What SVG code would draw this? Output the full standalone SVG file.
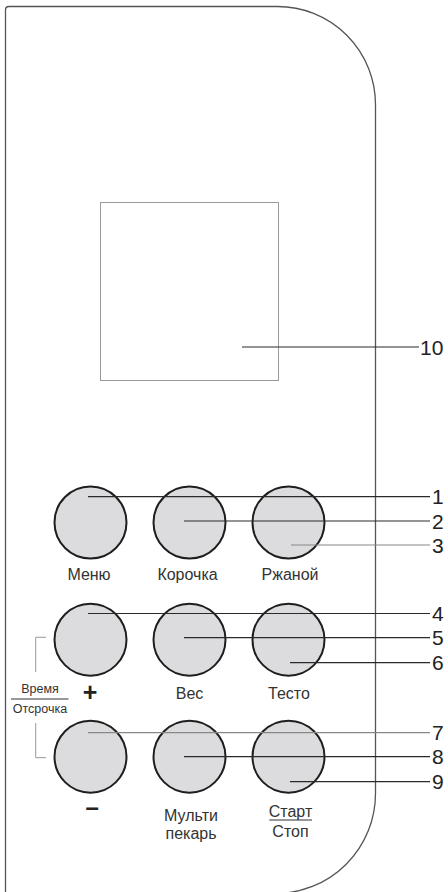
<svg xmlns="http://www.w3.org/2000/svg" width="448" height="892" viewBox="0 0 448 892">
<style>
.btn{fill:#dcdcde;stroke:#1e1e1e;stroke-width:2}
.lbl{font-family:"Liberation Sans",Arial,sans-serif;font-size:16px;fill:#333;text-anchor:middle}
.sm{font-family:"Liberation Sans",Arial,sans-serif;font-size:12.5px;fill:#333;text-anchor:middle}
.num{font-family:"Liberation Sans",Arial,sans-serif;font-size:21px;fill:#222}
.ln{stroke:#2a2a2a;stroke-width:1.2;fill:none}
.lg{stroke:#888;stroke-width:1.2;fill:none}
.br{stroke:#999;stroke-width:1;fill:none}
</style>
<rect width="448" height="892" fill="#fff"/>
<g id="panel">
<path d="M5.5,900 V10 Q5.5,6.5 9,6.5 H277.5 A98,98 0 0 1 375.5,104.5 V793.5 A100,100 0 0 1 275.5,893.5 H5.5" fill="none" stroke="#555" stroke-width="1.3"/>
</g>
<g id="screen">
<rect x="100.5" y="202.5" width="178" height="178" fill="none" stroke="#9a9a9a" stroke-width="1"/>
</g>
<g id="btn-menu"><circle class="btn" cx="90.5" cy="522.5" r="36"/><text class="lbl" x="89" y="580">Меню</text></g>
<g id="btn-korochka"><circle class="btn" cx="189.5" cy="522.5" r="36"/><text class="lbl" x="187.5" y="580">Корочка</text></g>
<g id="btn-rzhanoy"><circle class="btn" cx="288.5" cy="522.5" r="36"/><text class="lbl" x="290" y="580">Ржаной</text></g>
<g id="btn-plus"><circle class="btn" cx="90.5" cy="639.7" r="36"/><text x="90" y="701" font-family="Liberation Sans,Arial,sans-serif" font-weight="bold" font-size="25" fill="#222" text-anchor="middle">+</text></g>
<g id="btn-ves"><circle class="btn" cx="189.5" cy="639.7" r="36"/><text class="lbl" x="189.5" y="699">Вес</text></g>
<g id="btn-testo"><circle class="btn" cx="288.5" cy="639.7" r="36"/><text class="lbl" x="289" y="699">Тесто</text></g>
<g id="btn-minus"><circle class="btn" cx="90.5" cy="756.7" r="36"/><text x="92.3" y="815" font-family="Liberation Sans,Arial,sans-serif" font-weight="bold" font-size="24" fill="#222" text-anchor="middle">–</text></g>
<g id="btn-multi"><circle class="btn" cx="189.5" cy="756.7" r="36"/><text class="lbl" x="191" y="821">Мульти</text><text class="lbl" x="191" y="839">пекарь</text></g>
<g id="btn-start"><circle class="btn" cx="288.5" cy="756.7" r="36"/><text class="lbl" x="290.5" y="817.3">Старт</text><line x1="269.3" y1="820" x2="312" y2="820" stroke="#333" stroke-width="1"/><text class="lbl" x="290.5" y="837.3">Стоп</text></g>
<g id="time-delay">
<text class="sm" x="40" y="693">Время</text>
<line x1="11" y1="699" x2="68.5" y2="699" stroke="#333" stroke-width="1"/>
<text class="sm" x="40" y="712.7">Отсрочка</text>
<path class="br" d="M46,637.3 H35.7 V672"/>
<path class="br" d="M35.7,723 V757.7 H46"/>
</g>
<g id="connectors">
<line class="ln" x1="242" y1="347" x2="419" y2="347"/>
<line class="ln" x1="88" y1="496.7" x2="430" y2="496.7"/>
<line class="ln" x1="184" y1="521" x2="430" y2="521"/>
<line class="lg" x1="291" y1="545" x2="430" y2="545"/>
<line class="ln" x1="88" y1="613.5" x2="430" y2="613.5"/>
<line class="ln" x1="184" y1="637.7" x2="430" y2="637.7"/>
<line class="ln" x1="290" y1="662.7" x2="430" y2="662.7"/>
<line class="lg" x1="88" y1="732.7" x2="430" y2="732.7"/>
<line class="ln" x1="184" y1="756.7" x2="430" y2="756.7" stroke="#555"/>
<line class="ln" x1="290" y1="781.7" x2="430" y2="781.7"/>
</g>
<g id="numbers">
<text class="num" x="420" y="355">10</text>
<text class="num" x="432" y="504.2">1</text>
<text class="num" x="432" y="528.5">2</text>
<text class="num" x="432" y="552.5">3</text>
<text class="num" x="432" y="621">4</text>
<text class="num" x="432" y="645.2">5</text>
<text class="num" x="432" y="670.2">6</text>
<text class="num" x="432" y="740.2">7</text>
<text class="num" x="432" y="764.2">8</text>
<text class="num" x="432" y="789.2">9</text>
</g>
</svg>
